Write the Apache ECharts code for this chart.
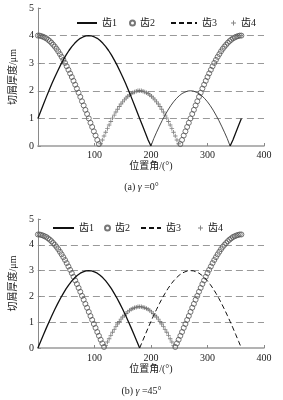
<!DOCTYPE html>
<html><head><meta charset="utf-8">
<script src="https://cdn.jsdelivr.net/npm/echarts@6/dist/echarts.min.js"></script>
<style>html,body{margin:0;padding:0;background:#fff}#c{width:283px;height:400px}</style>
</head><body><div id="c"></div>
<script>
// angle grid for marker series (deg)
const ANG = [0,3,6,9,12,15,18,21,24,27,30,33,36,39,42,45,48,51,54,57,60,63,66,69,72,75,78,81,84,87,90,93,96,99,102,105,108,111,114,117,120,123,126,129,132,135,138,141,144,147,150,153,156,159,162,165,168,171,174,177,180,183,186,189,192,195,198,201,204,207,210,213,216,219,222,225,228,231,234,237,240,243,246,249,252,255,258,261,264,267,270,273,276,279,282,285,288,291,294,297,300,303,306,309,312,315,318,321,324,327,330,333,336,339,342,345,348,351,354,357,360];
// angle grid for line series (deg)
const A5 = [0,5,10,15,20,25,30,35,40,45,50,55,60,65,70,75,80,85,90,95,100,105,110,115,120,125,130,135,140,145,150,155,160,165,170,175,180,185,190,195,200,205,210,215,220,225,230,235,240,245,250,255,260,265,270,275,280,285,290,295,300,305,310,315,320,325,330,335,340,345,350,355,360];

const xTicks = [0,100,200,300,400];
const yTicks = [0,1,2,3,4,5];
const names = ['齿1','齿2','齿3','齿4'];

// (a) gamma = 0
const topTooth1 = [1.00,1.26,1.52,1.78,2.03,2.27,2.50,2.72,2.93,3.12,3.30,3.46,3.60,3.72,3.82,3.90,3.95,3.99,4.00,3.99,3.95,3.90,3.82,3.72,3.60,3.46,3.30,3.12,2.93,2.72,2.50,2.27,2.03,1.78,1.52,1.26,1.00,0.74,0.48,0.22,0.00,0.27,0.50,0.72,0.93,1.12,1.30,1.46,1.60,1.72,1.82,1.90,1.95,1.99,2.00,1.99,1.95,1.90,1.82,1.72,1.60,1.46,1.30,1.12,0.93,0.72,0.50,0.27,0.00,0.22,0.48,0.74,1.00];
const topTooth2a = [4.00,4.00,3.98,3.96,3.93,3.90,3.85,3.80,3.74,3.67,3.60,3.52,3.43,3.33,3.23,3.12,3.01,2.89,2.76,2.63,2.50,2.36,2.22,2.08,1.93,1.78,1.62,1.47,1.31,1.16,1.00,0.84,0.69,0.53,0.38,0.22,0.07];
const topTooth4 = [0.08,0.22,0.36,0.50,0.63,0.76,0.89,1.01,1.12,1.23,1.33,1.43,1.52,1.60,1.67,1.74,1.80,1.85,1.90,1.93,1.96,1.98,2.00,2.00,2.00,1.98,1.96,1.93,1.90,1.85,1.80,1.74,1.67,1.60,1.52,1.43,1.33,1.23,1.12,1.01,0.89,0.76,0.63,0.50,0.36,0.22,0.08];
const topTooth2b = [0.07,0.22,0.38,0.53,0.69,0.84,1.00,1.16,1.31,1.47,1.62,1.78,1.93,2.08,2.22,2.36,2.50,2.63,2.76,2.89,3.01,3.12,3.23,3.33,3.43,3.52,3.60,3.67,3.74,3.80,3.85,3.90,3.93,3.96,3.98,4.00,4.00];

// (b) gamma = 45
const botTooth1 = [0.00,0.26,0.52,0.78,1.03,1.27,1.50,1.72,1.93,2.12,2.30,2.46,2.60,2.72,2.82,2.90,2.95,2.99,3.00,2.99,2.95,2.90,2.82,2.72,2.60,2.46,2.30,2.12,1.93,1.72,1.50,1.27,1.03,0.78,0.52,0.26,0.00];
const botTooth3 = [0.00,0.26,0.52,0.78,1.03,1.27,1.50,1.72,1.93,2.12,2.30,2.46,2.60,2.72,2.82,2.90,2.95,2.99,3.00,2.99,2.95,2.90,2.82,2.72,2.60,2.46,2.30,2.12,1.93,1.72,1.50,1.27,1.03,0.78,0.52,0.26,0.00];
const botTooth2a = [4.40,4.40,4.38,4.36,4.33,4.30,4.25,4.20,4.14,4.07,4.00,3.92,3.83,3.73,3.63,3.52,3.41,3.29,3.16,3.03,2.90,2.76,2.62,2.48,2.33,2.18,2.02,1.87,1.71,1.56,1.40,1.24,1.09,0.93,0.78,0.62,0.47,0.32,0.18,0.04];
const botTooth4 = [0.10,0.23,0.36,0.49,0.61,0.72,0.83,0.93,1.03,1.12,1.20,1.27,1.34,1.40,1.45,1.50,1.53,1.56,1.58,1.60,1.60,1.60,1.58,1.56,1.53,1.50,1.45,1.40,1.34,1.27,1.20,1.12,1.03,0.93,0.83,0.72,0.61,0.49,0.36,0.23,0.10];
const botTooth2b = [0.04,0.18,0.32,0.47,0.62,0.78,0.93,1.09,1.24,1.40,1.56,1.71,1.87,2.02,2.18,2.33,2.48,2.62,2.76,2.90,3.03,3.16,3.29,3.41,3.52,3.63,3.73,3.83,3.92,4.00,4.07,4.14,4.20,4.25,4.30,4.33,4.36,4.38,4.40,4.40];

const xName = '位置角/(°)';
const yName = '切屑厚度/μm';
const captions = ['(a) {g|γ} =0°', '(b) {g|γ} =45°'];

const SERIF = '"Liberation Serif","Noto Sans CJK SC",serif';
const PLUS = 'path://M4,0h2v4h4v2h-4v4h-2v-4h-4v-2h4z';
function zip(xs, ys){ return ys.map((y,i)=>[xs[i], y]); }

const chart = echarts.init(document.getElementById('c'), null, {renderer:'canvas'});

function xAx(g, gap, margin){
  return {gridIndex:g, type:'value', min:xTicks[0], max:xTicks[xTicks.length-1], interval:100,
    axisLine:{show:true, lineStyle:{color:'#9a9a9a', width:1.5}},
    axisTick:{show:true, inside:true, length:3, lineStyle:{color:'#888'}},
    axisLabel:{showMinLabel:false, margin:margin, fontSize:10, color:'#222', fontFamily:SERIF},
    splitLine:{show:false},
    name:xName, nameLocation:'middle', nameGap:gap,
    nameTextStyle:{fontSize:10, color:'#222', fontFamily:SERIF}};
}
function yAx(g){
  return {gridIndex:g, type:'value', min:yTicks[0], max:yTicks[yTicks.length-1], interval:1,
    axisLine:{show:true, lineStyle:{color:'#8a8a8a', width:1}},
    axisTick:{show:true, inside:true, length:3, lineStyle:{color:'#888'}},
    axisLabel:{margin:4, fontSize:10, color:'#222', fontFamily:SERIF},
    splitLine:{show:true, showMaxLine:false, showMinLine:false, lineStyle:{color:'#999', width:1, type:[7,4]}},
    name:yName, nameLocation:'middle', nameGap:14, nameRotate:90,
    nameTextStyle:{fontSize:10, color:'#222', fontFamily:SERIF}};
}
const lineStyleSolid = {color:'#111', width:1.3};
const circleStyle = {color:'rgba(0,0,0,0)', borderColor:'#555', borderWidth:1};
const plusStyle = {color:'#666'};

function leg(name, left, top, w, isLine){
  const l = {data:[name], left:left, top:top, itemWidth:w, itemHeight:10, padding:0,
    textStyle:{fontSize:10, color:'#222', fontFamily:SERIF}, selectedMode:false};
  if (isLine) l.itemStyle = {color:'rgba(0,0,0,0)', borderWidth:0, opacity:0};
  return l;
}

const option = {
  backgroundColor:'#fff',
  animation:false,
  title:[
    {text:captions[0], left:'center', top:177, textStyle:{fontSize:10, fontWeight:'normal', color:'#222', fontFamily:SERIF, rich:{g:{fontSize:10, fontStyle:'italic', fontFamily:SERIF}}}},
    {text:captions[1], left:'center', top:381, textStyle:{fontSize:10, fontWeight:'normal', color:'#222', fontFamily:SERIF, rich:{g:{fontSize:10, fontStyle:'italic', fontFamily:SERIF}}}}
  ],
  legend:[
    leg(names[0], 76, 18, 20, true), leg(names[1], 129, 18, 5), leg(names[2], 170, 18, 26, true), leg(names[3], 231, 18, 5),
    leg(names[0], 52, 223, 21, true), leg(names[1], 104, 223, 5), leg(names[2], 140, 223, 20, true), leg(names[3], 198, 223, 5)
  ],
  grid:[
    {left:31, right:19, top:8, height:138},
    {left:31, right:19, top:219, height:129}
  ],
  xAxis:[xAx(0, 15, 4), xAx(1, 16, 5)],
  yAxis:[yAx(0), yAx(1)],
  series:[
    {name:names[0], type:'line', xAxisIndex:0, yAxisIndex:0, symbol:'none', lineStyle:lineStyleSolid, itemStyle:{color:'#111'},
      data:zip(A5.slice(0,41), topTooth1.slice(0,41))},
    {name:names[0], type:'line', xAxisIndex:0, yAxisIndex:0, symbol:'none', lineStyle:{color:'#333', width:0.9}, itemStyle:{color:'#111'},
      data:zip(A5.slice(40,69), topTooth1.slice(40,69))},
    {name:names[0], type:'line', xAxisIndex:0, yAxisIndex:0, symbol:'none', lineStyle:lineStyleSolid, itemStyle:{color:'#111'},
      data:zip(A5.slice(68), topTooth1.slice(68))},
    {name:names[1], type:'scatter', xAxisIndex:0, yAxisIndex:0, symbol:'circle', symbolSize:5, itemStyle:circleStyle,
      data:zip(ANG.slice(0,37), topTooth2a).concat(zip(ANG.slice(84), topTooth2b))},
    {name:names[2], type:'line', xAxisIndex:0, yAxisIndex:0, symbol:'none', lineStyle:{color:'#111', width:1, type:[5,3]}, itemStyle:{color:'#111'},
      data:[]},
    {name:names[3], type:'scatter', xAxisIndex:0, yAxisIndex:0, symbol:PLUS, symbolSize:4.5, itemStyle:plusStyle,
      data:zip(ANG.slice(37,84), topTooth4)},

    {name:names[0], type:'line', xAxisIndex:1, yAxisIndex:1, symbol:'none', lineStyle:lineStyleSolid, itemStyle:{color:'#111'},
      data:zip(A5.slice(0,37), botTooth1)},
    {name:names[1], type:'scatter', xAxisIndex:1, yAxisIndex:1, symbol:'circle', symbolSize:5, itemStyle:circleStyle,
      data:zip(ANG.slice(0,40), botTooth2a).concat(zip(ANG.slice(81), botTooth2b))},
    {name:names[2], type:'line', xAxisIndex:1, yAxisIndex:1, symbol:'none', lineStyle:{color:'#111', width:1, type:[5,3]}, itemStyle:{color:'#111'},
      data:zip(A5.slice(36), botTooth3)},
    {name:names[3], type:'scatter', xAxisIndex:1, yAxisIndex:1, symbol:PLUS, symbolSize:4.5, itemStyle:plusStyle,
      data:zip(ANG.slice(40,81), botTooth4)}
  ]
};
chart.setOption(option);
</script></body></html>
